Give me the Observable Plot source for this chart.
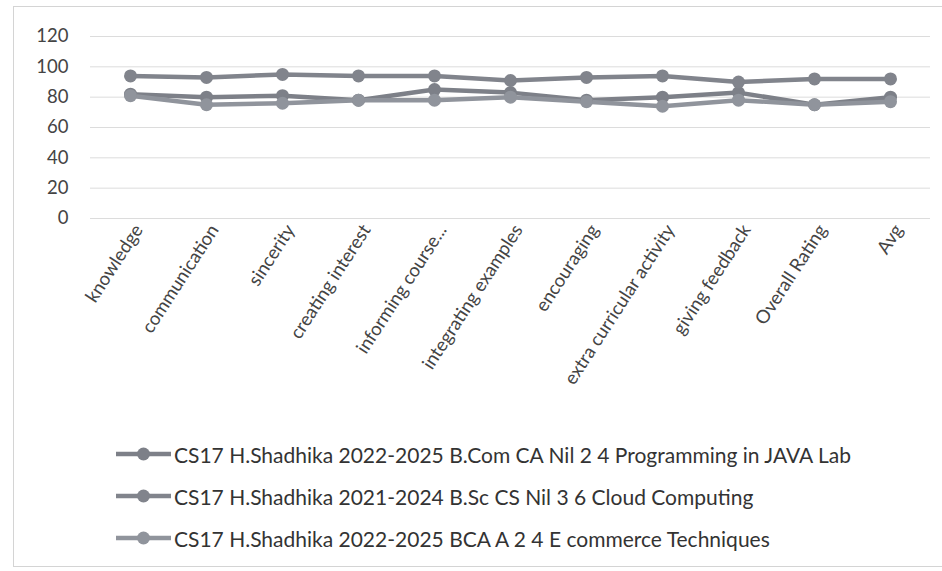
<!DOCTYPE html>
<html>
<head>
<meta charset="utf-8">
<script src="https://cdn.jsdelivr.net/npm/d3@7"></script>
<script src="https://cdn.jsdelivr.net/npm/@observablehq/plot@0.6"></script>
<style>
  html, body { margin: 0; padding: 0; background: #fff; }
  #frame { position: relative; width: 942px; height: 571px; overflow: hidden; background: #fff; }
  #border { position: absolute; left: 13px; top: 6px; width: 940px; height: 561px; border: 1px solid #d4d4d4; box-sizing: border-box; }
  #chart { position: absolute; left: 0; top: 0; }
  #legend { position: absolute; left: 116px; top: 433px; font-family: Lato, "Open Sans", sans-serif; font-size: 21px; color: #333; }
  .item { display: flex; align-items: center; height: 42px; white-space: nowrap; }
  .item svg { margin-right: 3px; }
</style>
</head>
<body>
<div id="frame">
  <div id="border"></div>
  <div id="chart"></div>
  <div id="legend"></div>
</div>
<script>
const categories = ["knowledge", "communication", "sincerity", "creating interest", "informing course...", "integrating examples", "encouraging", "extra curricular activity", "giving feedback", "Overall Rating", "Avg"];
const seriesNames = [
  "CS17 H.Shadhika 2022-2025 B.Com CA Nil 2 4 Programming in JAVA Lab",
  "CS17 H.Shadhika 2021-2024 B.Sc CS Nil 3 6 Cloud Computing",
  "CS17 H.Shadhika 2022-2025 BCA A 2 4 E commerce Techniques"
];
const javaLab = [82, 80, 81, 78, 85, 83, 78, 80, 83, 75, 80];
const cloudComputing = [94, 93, 95, 94, 94, 91, 93, 94, 90, 92, 92];
const eCommerce = [81, 75, 76, 78, 78, 80, 77, 74, 78, 75, 77];
const yTicks = [0, 20, 40, 60, 80, 100, 120];
const seriesColors = ["#7d8088", "#81848c", "#90949c"];

const allSeries = [javaLab, cloudComputing, eCommerce];
const data = [];
allSeries.forEach((vals, si) => {
  vals.forEach((v, i) => data.push({series: seriesNames[si], category: categories[i], value: v}));
});

const chart = Plot.plot({
  width: 942,
  height: 430,
  marginLeft: 90,
  marginRight: 12,
  marginTop: 36,
  marginBottom: 212,
  style: {fontFamily: "Lato, 'Open Sans', sans-serif", background: "transparent"},
  x: {type: "point", domain: categories, padding: 0.5, label: null},
  y: {domain: [0, 120], ticks: yTicks, label: null},
  color: {domain: seriesNames, range: seriesColors},
  marks: [
    Plot.gridY(yTicks, {stroke: "#dcdcdc", strokeOpacity: 1, strokeWidth: 1}),
    Plot.axisY(yTicks, {tickSize: 0, tickPadding: 22, fontSize: 18.5, fill: "#444", label: null}),
    Plot.axisX({tickSize: 0, tickRotate: -57, tickPadding: 8, dx: 8, fontSize: 18.5, fill: "#444", label: null}),
    Plot.line(data, {x: "category", y: "value", z: "series", stroke: "series", strokeWidth: 4.5}),
    Plot.dot(data, {x: "category", y: "value", fill: "series", r: 6.5, stroke: "none"})
  ]
});
document.getElementById("chart").appendChild(chart);

const legend = document.getElementById("legend");
seriesNames.forEach((name, i) => {
  const item = document.createElement("div");
  item.className = "item";
  item.innerHTML = `<svg width="55" height="16"><line x1="0" y1="8" x2="55" y2="8" stroke="${seriesColors[i]}" stroke-width="4.5"/><circle cx="27.5" cy="8" r="6.5" fill="${seriesColors[i]}"/></svg><span>${name}</span>`;
  legend.appendChild(item);
});
</script>
</body>
</html>
